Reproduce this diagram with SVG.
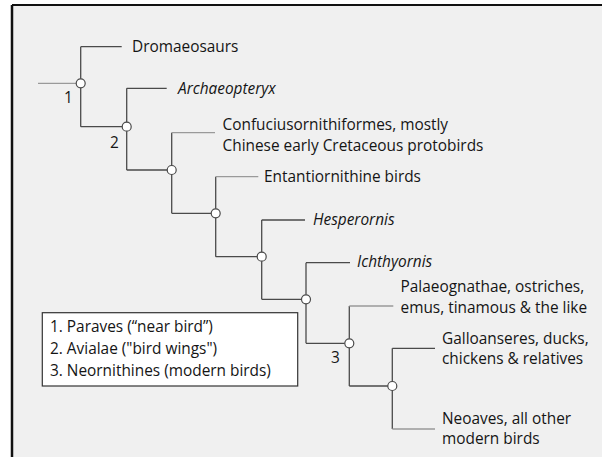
<svg xmlns="http://www.w3.org/2000/svg" width="602" height="462" viewBox="0 0 602 462">
<style>
text{font-family:"Open Sans","Liberation Sans",sans-serif;font-size:15.4px;fill:#151515}
.it{font-style:italic}
.d{stroke:#4a4a4a;stroke-width:1.3;fill:none}
.l{stroke:#9a9a9a;stroke-width:1.3;fill:none}
.n{fill:#fff;stroke:#4a4a4a;stroke-width:1.2}
</style>
<rect x="0" y="0" width="602" height="462" fill="#fff"/>
<rect x="13" y="6" width="589" height="451" fill="#f0f0f0"/>
<line x1="12" y1="5" x2="602" y2="5" stroke="#111" stroke-width="2"/>
<line x1="12" y1="5" x2="12" y2="457" stroke="#111" stroke-width="2.5"/>
<g id="connectors">
<line class="l" x1="38" y1="83.3" x2="80.7" y2="83.3"/>
<line class="d" x1="80.7" y1="46.7" x2="80.7" y2="126.7"/>
<line class="d" x1="80.7" y1="46.7" x2="121.7" y2="46.7"/>
<line class="d" x1="80.7" y1="126.7" x2="126.7" y2="126.7"/>
<line class="d" x1="126.7" y1="88.3" x2="126.7" y2="170"/>
<line class="d" x1="126.7" y1="88.3" x2="166.7" y2="88.3"/>
<line class="d" x1="126.7" y1="170" x2="171.7" y2="170"/>
<line class="d" x1="171.7" y1="132.7" x2="171.7" y2="213.3"/>
<line class="l" x1="171.7" y1="132.7" x2="215" y2="132.7"/>
<line class="d" x1="171.7" y1="213.3" x2="215.7" y2="213.3"/>
<line class="d" x1="215.7" y1="176.7" x2="215.7" y2="256.7"/>
<line class="l" x1="215.7" y1="176.7" x2="258.3" y2="176.7"/>
<line class="d" x1="215.7" y1="256.7" x2="261.7" y2="256.7"/>
<line class="d" x1="261.7" y1="220" x2="261.7" y2="299.3"/>
<line class="d" x1="261.7" y1="220" x2="305" y2="220"/>
<line class="d" x1="261.7" y1="299.3" x2="306" y2="299.3"/>
<line class="d" x1="306" y1="262.7" x2="306" y2="343.3"/>
<line class="d" x1="306" y1="262.7" x2="350" y2="262.7"/>
<line class="d" x1="306" y1="343.3" x2="349.3" y2="343.3"/>
<line class="d" x1="349.3" y1="306" x2="349.3" y2="386"/>
<line class="l" x1="349.3" y1="306" x2="393.3" y2="306"/>
<line class="d" x1="349.3" y1="386" x2="392.3" y2="386"/>
<line class="d" x1="392.3" y1="348.3" x2="392.3" y2="429"/>
<line class="d" x1="392.3" y1="348.3" x2="435" y2="348.3"/>
<line class="l" x1="392.3" y1="429" x2="435" y2="429"/>
</g>
<g id="node1"><circle class="n" cx="80.7" cy="83.3" r="4.5"/><text x="64" y="103">1</text></g>
<g id="node2"><circle class="n" cx="126.7" cy="126.7" r="4.5"/><text x="110" y="148">2</text></g>
<g id="node-c"><circle class="n" cx="171.7" cy="170" r="4.5"/></g>
<g id="node-e"><circle class="n" cx="215.7" cy="213.3" r="4.5"/></g>
<g id="node-h"><circle class="n" cx="261.7" cy="256.7" r="4.5"/></g>
<g id="node-i"><circle class="n" cx="306" cy="299.3" r="4.5"/></g>
<g id="node3"><circle class="n" cx="349.3" cy="343.3" r="4.5"/><text x="331" y="363">3</text></g>
<g id="node-g"><circle class="n" cx="392.3" cy="386" r="4.5"/></g>
<g id="leaf-dromaeosaurs"><text x="132" y="52">Dromaeosaurs</text></g>
<g id="leaf-archaeopteryx"><text class="it" x="178" y="93.5">Archaeopteryx</text></g>
<g id="leaf-confuciusornithiformes"><text x="222.5" y="129.5">Confuciusornithiformes, mostly</text><text x="222.5" y="150.5">Chinese early Cretaceous protobirds</text></g>
<g id="leaf-entantiornithine"><text x="264" y="182">Entantiornithine birds</text></g>
<g id="leaf-hesperornis"><text class="it" x="313" y="225">Hesperornis</text></g>
<g id="leaf-ichthyornis"><text class="it" x="357" y="267">Ichthyornis</text></g>
<g id="leaf-palaeognathae"><text x="400.5" y="291.5">Palaeognathae, ostriches,</text><text x="400.5" y="312.5">emus, tinamous &amp; the like</text></g>
<g id="leaf-galloanseres"><text x="442" y="343.5">Galloanseres, ducks,</text><text x="442" y="364">chickens &amp; relatives</text></g>
<g id="leaf-neoaves"><text x="442" y="423.5">Neoaves, all other</text><text x="442" y="444">modern birds</text></g>
<g id="legend">
<rect x="42.3" y="312.7" width="255.4" height="73.3" fill="#fff" stroke="#333" stroke-width="1.2"/>
<text x="50" y="331.5">1. Paraves (“near bird”)</text>
<text x="50" y="353.5">2. Avialae ("bird wings")</text>
<text x="50" y="376">3. Neornithines (modern birds)</text>
</g>
</svg>
